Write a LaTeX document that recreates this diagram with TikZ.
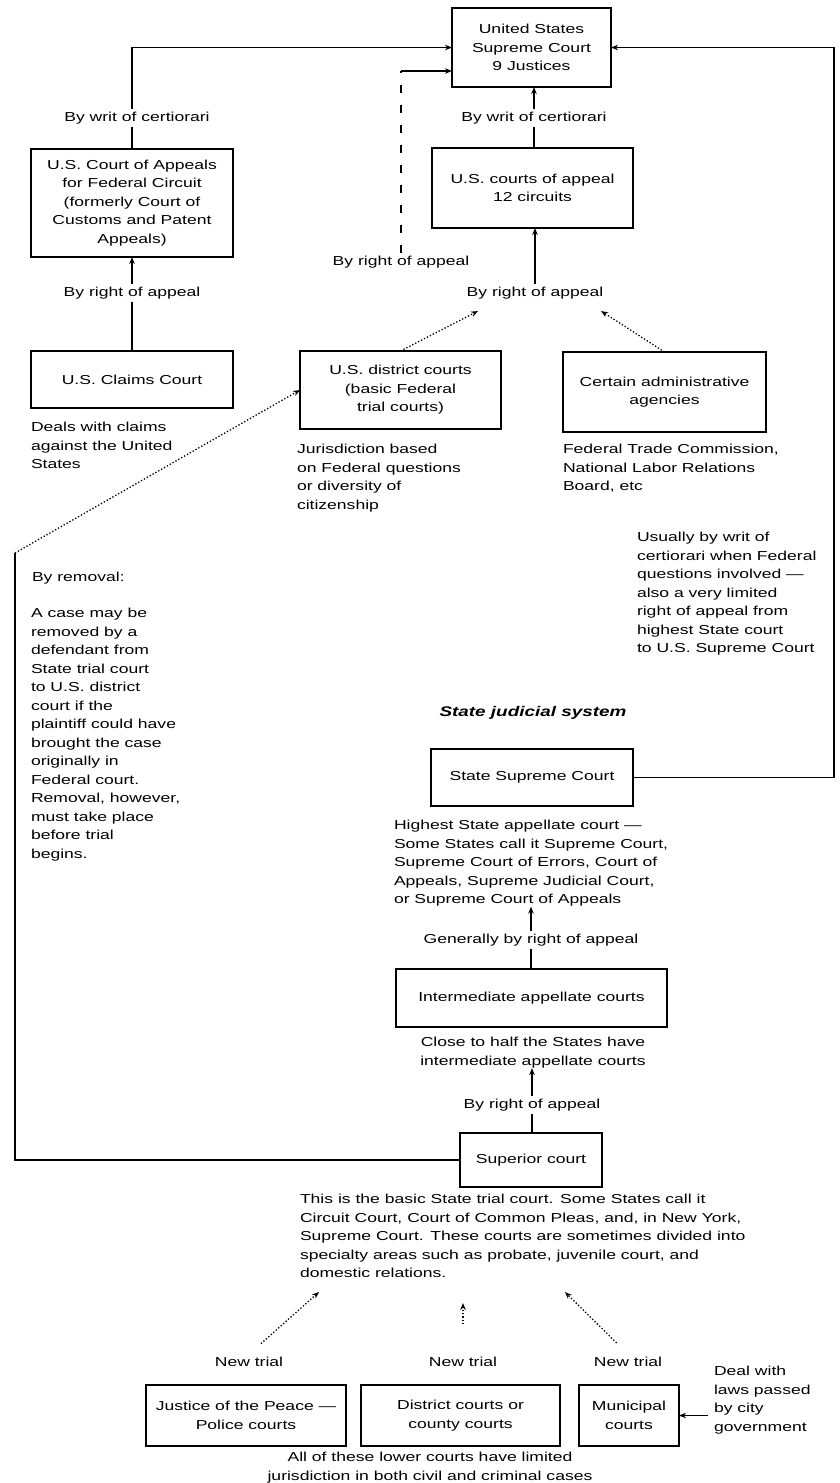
\documentclass[tikz,border=0pt]{standalone}
\usepackage{fontspec}
\setmainfont[FakeStretch=1.35]{Liberation Sans}
\usetikzlibrary{arrows.meta}

\begin{document}
\begin{tikzpicture}[x=1pt,y=-1pt,
  every node/.style={inner sep=0pt, outer sep=0pt},
  txt/.style={font=\fontsize{13}{18.5}\selectfont},
  court/.style={draw, line width=1.8pt, txt, align=center},
  note/.style={txt, align=left, anchor=north west},
  cnote/.style={txt, align=center, anchor=north},
  lbl/.style={txt, inner sep=3pt},
  wire/.style={line width=1.7pt},
  dots/.style={line width=1.3pt, dotted},
  tip/.style={-{Stealth[length=7pt,width=5.5pt]}}
]
\useasboundingbox (0,0) rectangle (839,1483);

% ---------------- Federal courts ----------------
\node[court, minimum width=159, minimum height=79] (sc) at (531.5,47.5)
  {United States\\Supreme Court\\9 Justices};
\node[court, minimum width=201, minimum height=80] (coa) at (532.5,188)
  {U.S. courts of appeal\\12 circuits};
\node[court, minimum width=202, minimum height=108] (fedc) at (132,203)
  {U.S. Court of Appeals\\for Federal Circuit\\(formerly Court of\\Customs and Patent\\Appeals)};
\node[court, minimum width=202, minimum height=57] (claims) at (132,379.5)
  {U.S. Claims Court};
\node[court, minimum width=201, minimum height=78] (dist) at (400.5,390)
  {U.S. district courts\\(basic Federal\\trial courts)};
\node[court, minimum width=203, minimum height=80] (agency) at (664.5,392)
  {Certain administrative\\agencies};

% labels on the federal connectors
\node[lbl] (w1) at (137,118) {By writ of certiorari};
\node[lbl] (w2) at (534,118) {By writ of certiorari};
\node[lbl] (r1) at (401,262) {By right of appeal};
\node[lbl] (r2) at (535,293) {By right of appeal};
\node[lbl] (r3) at (132,293) {By right of appeal};

% notes under the federal courts
\node[note] (deals) at (31,422.5) {Deals with claims\\against the United\\States};
\node[note] (juris) at (297,444.5) {Jurisdiction based\\on Federal questions\\or diversity of\\citizenship};
\node[note] (ftc) at (563,444.5) {Federal Trade Commission,\\National Labor Relations\\Board, etc};
\node[note] (usually) at (637,532.5) {Usually by writ of\\certiorari when Federal\\questions involved —\\also a very limited\\right of appeal from\\highest State court\\to U.S. Supreme Court};
\node[note] (byrem) at (32,572.5) {By removal:};
\node[note] (case) at (31,608.5) {A case may be\\removed by a\\defendant from\\State trial court\\to U.S. district\\court if the\\plaintiff could have\\brought the case\\originally in\\Federal court.\\Removal, however,\\must take place\\before trial\\begins.};

% ---------------- State courts ----------------
\node[font=\fontsize{14}{16}\selectfont\bfseries\itshape] (title) at (533,713) {State judicial system};
\node[court, minimum width=202, minimum height=57] (ssc) at (532,777.5) {State Supreme Court};
\node[note] (hi) at (394,820.5) {Highest State appellate court —\\Some States call it Supreme Court,\\Supreme Court of Errors, Court of\\Appeals, Supreme Judicial Court,\\or Supreme Court of Appeals};
\node[lbl] (g1) at (531,940) {Generally by right of appeal};
\node[court, minimum width=271, minimum height=58] (inter) at (531.5,998) {Intermediate appellate courts};
\node[cnote] (half) at (533,1037.5) {Close to half the States have\\intermediate appellate courts};
\node[lbl] (r4) at (532,1105) {By right of appeal};
\node[court, minimum width=142, minimum height=54] (sup) at (531,1160) {Superior court};
\node[note] (basic) at (300,1194.5) {This is the basic State trial court. Some States call it\\Circuit Court, Court of Common Pleas, and, in New York,\\Supreme Court. These courts are sometimes divided into\\specialty areas such as probate, juvenile court, and\\domestic relations.};

\node[lbl] (n1) at (249,1362) {New trial};
\node[lbl] (n2) at (463,1362) {New trial};
\node[lbl] (n3) at (628,1362) {New trial};
\node[court, minimum width=200, minimum height=61] (jp) at (246,1415.5) {Justice of the Peace —\\Police courts};
\node[court, minimum width=199, minimum height=61] (dc) at (460.5,1415.5) {District courts or\\county courts};
\node[court, minimum width=100, minimum height=61] (mun) at (629,1415.5) {Municipal\\courts};
\node[note] (deal) at (714,1366.5) {Deal with\\laws passed\\by city\\government};
\node[cnote] (lower) at (430,1452.5) {All of these lower courts have limited\\jurisdiction in both civil and criminal cases};

% ---------------- connectors ----------------
\coordinate (scin) at (452,71);
\coordinate (rc) at (834,48);
\coordinate (rm) at (15,553);
\coordinate (r2l) at (478,311);
\coordinate (r2r) at (601,311);
\coordinate (t1) at (319,1292);
\coordinate (t2) at (463,1303);
\coordinate (t3) at (565,1292);

% into the Supreme Court
\draw[wire] (fedc.north) -- (fedc.north |- w1.south);
\draw[wire,tip] (fedc.north |- w1.north) -- (fedc.north |- sc.west) -- (sc.west);
\draw[wire,dash pattern=on 8pt off 12pt] (r1.north) -- (r1.north |- scin);
\draw[wire,tip] (r1.north |- scin) -- (scin);
\draw[wire,tip] (w2.north) -- (w2.north |- sc.south);
\draw[wire] (w2.south) -- (w2.south |- coa.north);
\draw[wire,tip] (ssc.east) -- (rc |- ssc.east) -- (rc |- sc.east) -- (sc.east);

% into the courts of appeal
\draw[wire,tip] (r2.north) -- (r2.north |- coa.south);
\draw[dots,tip] (dist.north) -- (r2l);
\draw[dots,tip] (agency.north) -- (r2r);
\draw[wire,tip] (r3.north) -- (fedc.south);
\draw[wire] (claims.north) -- (r3.south);

% removal from State trial court
\draw[wire] (sup.west) -- (rm |- sup.west) -- (rm);
\draw[dots,tip] (rm) -- (dist.west);

% State appeals
\draw[wire,tip] (g1.north) -- (g1.north |- hi.south);
\draw[wire] (g1.south) -- (g1.south |- inter.north);
\draw[wire,tip] (r4.north) -- (r4.north |- half.south);
\draw[wire] (r4.south) -- (r4.south |- sup.north);

% new trials from the lower courts
\draw[dots,tip,shorten <=16pt] (n1.north) -- (t1);
\draw[dots,tip,shorten <=30pt] (n2.north) -- (t2);
\draw[dots,tip,shorten <=16pt] (n3.north) -- (t3);
\draw[wire,tip,shorten <=6pt] (mun.east -| deal.west) -- (mun.east);
\end{tikzpicture}
\end{document}
